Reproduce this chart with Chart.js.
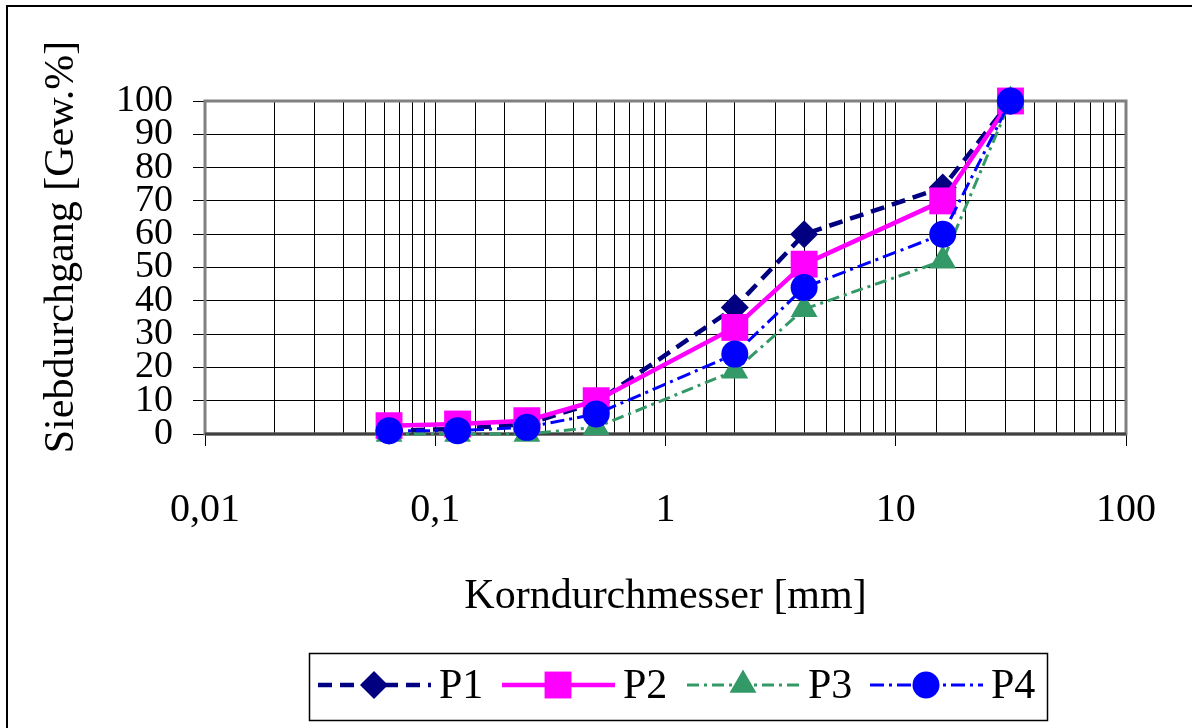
<!DOCTYPE html>
<html><head><meta charset="utf-8">
<script src="https://cdn.jsdelivr.net/npm/chart.js@4/dist/chart.umd.min.js"></script>
<style>html,body{margin:0;padding:0;background:#fff;overflow:hidden}#w{width:1192px;height:728px;position:relative}</style>
</head><body><div id="w"><canvas id="c" width="1192" height="728"></canvas></div>
<script>
// ---- data ----
const sieveSizes = [0.063, 0.125, 0.25, 0.5, 2, 4, 16, 31.5];
const P1 = [1, 1.5, 3, 9.5, 38, 60, 74, 100];
const P2 = [2.5, 3, 4, 10, 32, 51, 70, 100];
const P3 = [0, 0, 0, 2, 19, 37.5, 52, 100];
const P4 = [1, 1, 2, 6, 24, 44, 60, 100];
const seriesNames = ['P1', 'P2', 'P3', 'P4'];
const xTickValues = [0.01, 0.1, 1, 10, 100];
const xTickLabels = ['0,01', '0,1', '1', '10', '100'];
const xTitle = 'Korndurchmesser [mm]';
const yTitle = 'Siebdurchgang [Gew.%]';

const FONT = "'Liberation Serif', 'Times New Roman', serif";
const toPts = ys => sieveSizes.map((x, i) => ({x: x, y: ys[i]}));
const isMajor = v => xTickValues.some(t => Math.abs(Math.log10(v) - Math.log10(t)) < 1e-6);
const labelFor = v => { const i = xTickValues.findIndex(t => Math.abs(Math.log10(v) - Math.log10(t)) < 1e-6); return i >= 0 ? xTickLabels[i] : ''; };

const styles = [
  {color: '#000080', width: 4.5, dash: [14, 8], point: 'rectRot', r: 14, order: 3},
  {color: '#FF00FF', width: 4.5, dash: [], point: 'rect', r: 19, order: 2},
  {color: '#339966', width: 3, dash: [12, 5, 3, 5], point: 'triangle', r: 15.5, order: 1},
  {color: '#0000FF', width: 3, dash: [14, 5, 3, 5], point: 'circle', r: 13.5, order: 0}
];
const seriesData = [P1, P2, P3, P4];

const datasets = seriesData.map((d, i) => ({
  label: seriesNames[i],
  data: toPts(d),
  borderColor: styles[i].color,
  backgroundColor: styles[i].color,
  borderWidth: styles[i].width,
  borderDash: styles[i].dash,
  pointStyle: styles[i].point,
  pointRadius: styles[i].r,
  pointHoverRadius: styles[i].r,
  pointBorderWidth: 0,
  pointBackgroundColor: styles[i].color,
  tension: 0,
  order: styles[i].order,
  clip: false
}));

const framePlugin = {
  id: 'frame',
  beforeDraw(chart) {
    const ctx = chart.ctx;
    ctx.save();
    ctx.fillStyle = '#fff';
    ctx.fillRect(0, 0, chart.width, chart.height);
    ctx.strokeStyle = '#000';
    ctx.lineWidth = 2;
    ctx.strokeRect(7, 6, 1300, 900);
    ctx.restore();
  },
  beforeDatasetsDraw(chart) {
    const {ctx, chartArea: a} = chart;
    ctx.save();
    ctx.strokeStyle = '#808080';
    ctx.lineWidth = 3;
    ctx.strokeRect(a.left, a.top, a.right - a.left, a.bottom - a.top);
    ctx.beginPath();
    ctx.strokeStyle = '#404040';
    ctx.moveTo(a.left, a.bottom); ctx.lineTo(a.right, a.bottom);
    ctx.stroke();
    ctx.restore();
  },
  afterDraw(chart) {
    const ctx = chart.ctx;
    ctx.save();
    // y axis title
    ctx.translate(62, 247);
    ctx.rotate(-Math.PI / 2);
    ctx.fillStyle = '#000';
    ctx.font = '42px ' + FONT;
    ctx.textAlign = 'center';
    ctx.textBaseline = 'middle';
    ctx.fillText(yTitle, 0, 0);
    ctx.restore();

    // legend
    ctx.save();
    ctx.strokeStyle = '#000';
    ctx.lineWidth = 1.5;
    ctx.strokeRect(309.5, 653.5, 738, 67);
    const ly = 685;
    const x0s = [318, 502, 687, 870];
    chart.data.datasets.forEach((ds, i) => {
      const x0 = x0s[i];
      ctx.save();
      ctx.strokeStyle = ds.borderColor;
      ctx.lineWidth = ds.borderWidth;
      ctx.setLineDash(ds.borderDash);
      ctx.beginPath();
      ctx.moveTo(x0, ly); ctx.lineTo(x0 + 113, ly);
      ctx.stroke();
      ctx.setLineDash([]);
      ctx.fillStyle = ds.backgroundColor;
      ctx.strokeStyle = ds.backgroundColor;
      Chart.helpers.drawPoint(ctx, {pointStyle: ds.pointStyle, radius: ds.pointRadius, rotation: 0, borderWidth: 0}, x0 + 56, ly);
      ctx.restore();
      ctx.fillStyle = '#000';
      ctx.font = '42px ' + FONT;
      ctx.textAlign = 'left';
      ctx.textBaseline = 'middle';
      ctx.fillText(ds.label, x0 + 121, ly + 2);
    });
    ctx.restore();
  }
};

new Chart(document.getElementById('c'), {
  type: 'line',
  data: {datasets: datasets},
  options: {
    responsive: false,
    animation: false,
    devicePixelRatio: 1,
    layout: {padding: {left: 0, top: 101, right: 66, bottom: 0}},
    plugins: {legend: {display: false}, tooltip: {enabled: false}},
    scales: {
      x: {
        type: 'logarithmic',
        min: 0.01, max: 100,
        afterFit: s => { s.height = 728 - 101 - 333; s.paddingRight = 0; s.paddingLeft = 0; },
        border: {display: false},
        grid: {
          color: '#000', lineWidth: 1, drawTicks: true, tickLength: 12,
          tickColor: ctx => (ctx.tick && isMajor(ctx.tick.value)) ? '#000' : 'rgba(0,0,0,0)'
        },
        ticks: {
          autoSkip: false, maxRotation: 0, minRotation: 0, padding: 40,
          color: '#000', font: {family: FONT, size: 40},
          callback: v => labelFor(v)
        },
        title: {display: true, text: xTitle, color: '#000', font: {family: FONT, size: 42}, padding: {top: 0, bottom: 106}}
      },
      y: {
        min: 0, max: 100,
        afterFit: s => { s.width = 205; },
        border: {display: false},
        grid: {color: '#000', lineWidth: 1, tickLength: 12, tickColor: '#000'},
        ticks: {stepSize: 10, autoSkip: false, padding: 20, color: '#000', font: {family: FONT, size: 38}}
      }
    }
  },
  plugins: [framePlugin]
});
</script>
</body></html>
